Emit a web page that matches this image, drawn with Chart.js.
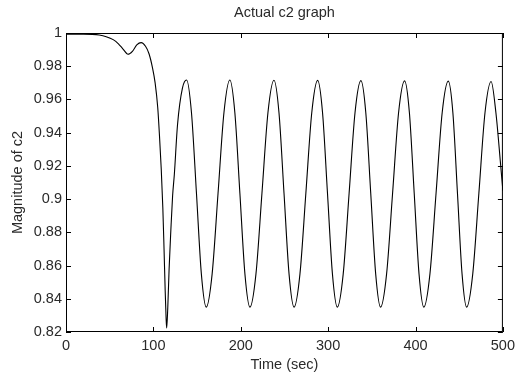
<!DOCTYPE html>
<html>
<head>
<meta charset="utf-8">
<script src="https://cdn.jsdelivr.net/npm/chart.js@4.4.1/dist/chart.umd.min.js"></script>
<style>
    html, body { margin: 0; padding: 0; background: #fff; }
    #c2Chart { display: block; }
</style>
</head>
<body>
<canvas id="c2Chart" width="520" height="381"></canvas>
<script>
// values (time in sec, magnitude of c2)
var times = [
    0, 10, 20, 30, 38, 46, 54, 60, 65, 71, 76, 81, 86, 91, 95, 99, 102, 105,
    107, 109, 110.8, 112.2, 113.5, 114.5, 115.2, 116.5, 118, 120, 122, 124, 127.6, 133.3, 138,
    143.6, 149.3, 154.9, 160.5, 167.25, 174, 180.75, 187.5,
    193.25, 199, 204.75, 210.5, 217.4, 224.25, 231.1, 238,
    243.75, 249.5, 255.25, 261, 267.75, 274.5, 281.25, 288,
    293.6, 299.25, 304.9, 310.5, 317.25, 324, 330.75, 337.5,
    343.1, 348.75, 354.4, 360, 366.9, 373.75, 380.6, 387.5,
    393, 398.5, 404, 409.5, 416.5, 423.5, 430.5, 437.5,
    442.75, 448, 453.25, 458.5, 465.5, 472.5, 479.5, 486.5,
    492, 497.5, 500
];
var c2 = [
    0.9993, 0.9993, 0.9993, 0.9992, 0.9988, 0.9978, 0.9960, 0.9935, 0.9905, 0.9872, 0.9890, 0.9928, 0.9942, 0.9920, 0.9875, 0.9790, 0.9700, 0.9550,
    0.9380, 0.9180, 0.8950, 0.8700, 0.8450, 0.8290, 0.8224, 0.8350, 0.8580, 0.8814, 0.9020, 0.9150, 0.9446, 0.9669, 0.9717,
    0.952, 0.9035, 0.855, 0.835, 0.855, 0.9035, 0.952, 0.9717,
    0.952, 0.9035, 0.855, 0.835, 0.855, 0.9035, 0.952, 0.9716,
    0.952, 0.9035, 0.855, 0.835, 0.855, 0.9035, 0.952, 0.9715,
    0.952, 0.9035, 0.855, 0.835, 0.855, 0.9035, 0.952, 0.9713,
    0.952, 0.9035, 0.855, 0.835, 0.855, 0.9035, 0.952, 0.9712,
    0.952, 0.9035, 0.855, 0.835, 0.855, 0.9035, 0.952, 0.9710,
    0.952, 0.9035, 0.855, 0.835, 0.855, 0.9035, 0.952, 0.9708,
    0.952, 0.9200, 0.9050
];
var xTicks = [0, 100, 200, 300, 400, 500];
var yTicks = [0.82, 0.84, 0.86, 0.88, 0.9, 0.92, 0.94, 0.96, 0.98, 1];

var textColor = '#2a2a2a';
var font = { family: "'Liberation Sans', Arial, sans-serif", size: 14.5 };

var points = times.map(function (t, i) { return { x: t, y: c2[i] }; });

// matlab style box with inward ticks
var boxPlugin = {
    id: 'boxPlugin',
    afterDraw: function (chart) {
        var ctx = chart.ctx;
        var a = chart.chartArea;
        var xs = chart.scales.x;
        var ys = chart.scales.y;
        var len = 5;
        ctx.save();
        ctx.strokeStyle = '#000';
        ctx.lineWidth = 1;
        ctx.strokeRect(a.left + 0.5, a.top + 0.5, a.right - a.left - 1, a.bottom - a.top - 1);
        ctx.beginPath();
        xTicks.forEach(function (v) {
            var px = Math.round(xs.getPixelForValue(v)) + 0.5;
            ctx.moveTo(px, a.bottom); ctx.lineTo(px, a.bottom - len);
            ctx.moveTo(px, a.top); ctx.lineTo(px, a.top + len);
        });
        yTicks.forEach(function (v) {
            var py = Math.round(ys.getPixelForValue(v)) + 0.5;
            ctx.moveTo(a.left, py); ctx.lineTo(a.left + len, py);
            ctx.moveTo(a.right, py); ctx.lineTo(a.right - len, py);
        });
        ctx.stroke();
        ctx.restore();
    }
};

var ctx = document.getElementById('c2Chart').getContext('2d');
var myChart = new Chart(ctx, {
    type: 'line',
    data: {
        datasets: [{
            label: 'c2',
            data: points,
            borderColor: '#000',
            borderWidth: 1.1,
            pointRadius: 0,
            fill: false,
            cubicInterpolationMode: 'monotone'
        }]
    },
    options: {
        responsive: false,
        animation: false,
        layout: { padding: { left: 0, right: 14, top: 0, bottom: 0 } },
        plugins: {
            legend: { display: false },
            tooltip: { enabled: false },
            title: {
                display: true,
                fullSize: false,
                text: 'Actual c2 graph',
                color: textColor,
                font: { family: font.family, size: 14.5, weight: 'normal' },
                padding: { top: 4, bottom: 11.6 }
            }
        },
        scales: {
            x: {
                type: 'linear',
                min: 0,
                max: 500,
                afterBuildTicks: function (scale) {
                    scale.ticks = xTicks.map(function (v) { return { value: v }; });
                },
                afterFit: function (scale) { scale.height = 49; },
                grid: { display: false, drawTicks: false },
                border: { display: false },
                ticks: { color: textColor, font: font, padding: 5, maxRotation: 0 },
                title: {
                    display: true,
                    text: 'Time (sec)',
                    color: textColor,
                    font: font,
                    padding: { top: 0, bottom: 7 }
                }
            },
            y: {
                type: 'linear',
                min: 0.82,
                max: 1,
                afterBuildTicks: function (scale) {
                    scale.ticks = yTicks.map(function (v) { return { value: v }; });
                },
                afterFit: function (scale) { scale.width = 66; },
                grid: { display: false, drawTicks: false },
                border: { display: false },
                ticks: {
                    color: textColor,
                    font: font,
                    padding: 4,
                    callback: function (v) { return String(+v.toFixed(2)); }
                },
                title: {
                    display: true,
                    text: 'Magnitude of c2',
                    color: textColor,
                    font: font,
                    padding: { top: 9, bottom: 0 }
                }
            }
        }
    },
    plugins: [boxPlugin]
});
</script>
</body>
</html>
